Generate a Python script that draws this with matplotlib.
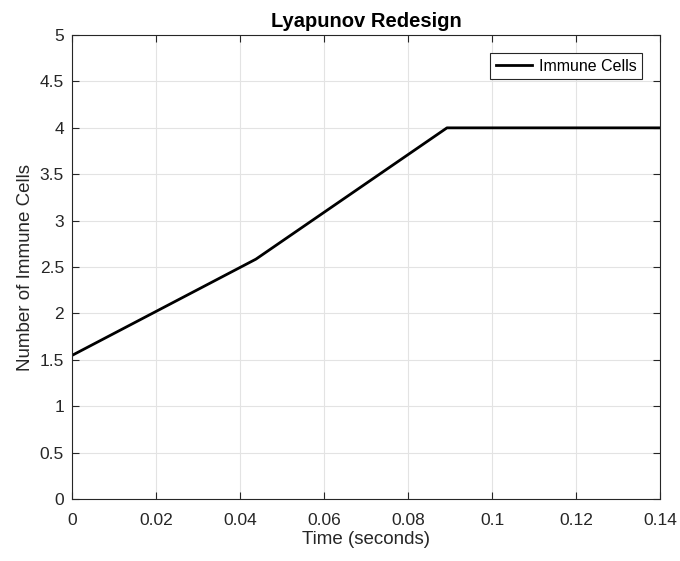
import matplotlib
matplotlib.use('Agg')
import matplotlib.pyplot as plt

plt.rcParams['font.family'] = ['Liberation Sans', 'DejaVu Sans']

# immune cell count vs time (piecewise trajectory)
time_s = [0.0, 0.0437, 0.0892, 0.14]
immune_cells = [1.55, 2.585, 4.0, 4.0]

xticks = [0, 0.02, 0.04, 0.06, 0.08, 0.1, 0.12, 0.14]
xtick_labels = ['0', '0.02', '0.04', '0.06', '0.08', '0.1', '0.12', '0.14']
yticks = [0, 0.5, 1, 1.5, 2, 2.5, 3, 3.5, 4, 4.5, 5]
ytick_labels = ['0', '0.5', '1', '1.5', '2', '2.5', '3', '3.5', '4', '4.5', '5']

fig = plt.figure(figsize=(6.8, 5.61), dpi=100)
ax = fig.add_axes([0.1065, 0.1105, 0.8645, 0.827])

ax.plot(time_s, immune_cells, color='black', linewidth=2, label='Immune Cells')

ax.set_xlim(0, 0.14)
ax.set_ylim(0, 5)
ax.set_xticks(xticks)
ax.set_xticklabels(xtick_labels)
ax.set_yticks(yticks)
ax.set_yticklabels(ytick_labels)
ax.grid(True, color='#e3e3e3', linewidth=0.8)
ax.set_axisbelow(True)
ax.tick_params(direction='in', top=True, right=True, length=5, width=0.8,
               labelsize=12.5, colors='#262626')
ax.tick_params(axis='x', pad=10)
ax.tick_params(axis='y', pad=6)
for s in ax.spines.values():
    s.set_color('#262626')
    s.set_linewidth(0.8)

ax.set_xlabel('Time (seconds)', fontsize=13.5, color='#262626', labelpad=2)
ax.set_ylabel('Number of Immune Cells', fontsize=13.5, color='#262626', labelpad=4)
ax.set_title('Lyapunov Redesign', fontsize=14.5, fontweight='bold', pad=6)

leg = ax.legend(loc='upper right', bbox_to_anchor=(0.969, 0.961), fontsize=11.5,
                fancybox=False, edgecolor='#262626', framealpha=1,
                handlelength=2.3, handletextpad=0.4, borderpad=0.35,
                borderaxespad=0)
leg.get_frame().set_linewidth(0.8)

fig.savefig('out.png', dpi=100)
